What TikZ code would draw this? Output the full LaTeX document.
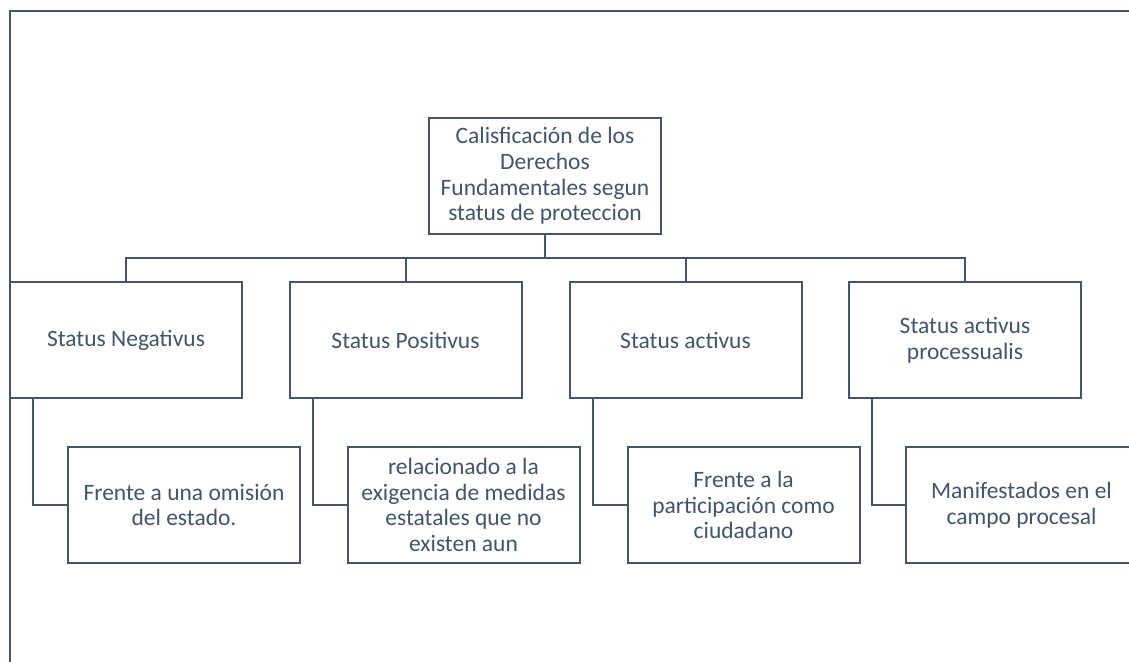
\documentclass[tikz,border=0pt]{standalone}
\usepackage{fontspec}
\setmainfont{Carlito}
\definecolor{ink}{HTML}{44546A}
\begin{document}
\begin{tikzpicture}[x=1pt,y=-1pt,
  box/.style={draw=ink,line width=2pt,fill=white,inner sep=0pt,minimum width=232pt,minimum height=116pt,align=center,text=ink,font=\fontsize{23.5}{25.8}\selectfont},
  link/.style={draw=ink,line width=2pt}]
\useasboundingbox (0,0) rectangle (1129,661);
\clip (0,0) rectangle (1129,661);
\fill[white] (0,0) rectangle (1129,661);
\draw[ink,line width=2.7pt] (10,670) -- (10,11) -- (1140,11);
\node[box] (root) at (545,176) {Calisficación de los\\Derechos\\Fundamentales segun\\status de proteccion};
\node[box] (n1) at (126,340) {Status Negativus};
\node[box] (n2) at (405.5,340) {Status Positivus};
\node[box] (n3) at (685.5,340) {Status activus};
\node[box] (n4) at (965,340) {Status activus\\processualis};
\node[box] (c1) at (184,505) {Frente a una omisión\\del estado.};
\node[box] (c2) at (463.5,505) {relacionado a la\\exigencia de medidas\\estatales que no\\existen aun};
\node[box] (c3) at (743.5,505) {Frente a la\\participación como\\ciudadano};
\node[box] (c4) at (1021.5,505) {Manifestados en el\\campo procesal};
\coordinate (bus) at (545,258);
\draw[link] (root.south) -- (bus);
\foreach \n in {n1,n2,n3,n4} \draw[link] (bus) -| (\n.north);
\foreach \p/\c in {n1/c1,n2/c2,n3/c3,n4/c4} \draw[link] ([xshift=-93pt]\p.south) |- (\c.west);
\end{tikzpicture}
\end{document}
